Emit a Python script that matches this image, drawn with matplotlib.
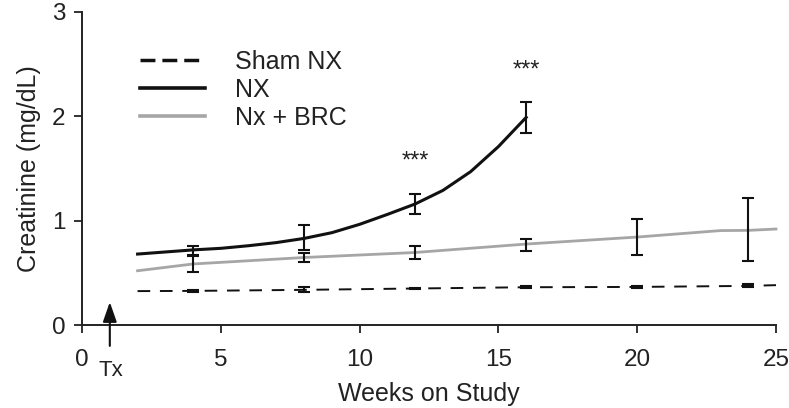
import matplotlib
matplotlib.use("Agg")
import matplotlib.pyplot as plt
from matplotlib.lines import Line2D

plt.rcParams['font.family'] = ['Liberation Sans', 'DejaVu Sans']

# curve traces (weeks, mg/dL)
nx_weeks = [2, 3, 4, 5, 6, 7, 8, 9, 10, 11, 12, 13, 14, 15, 16]
nx_vals = [0.68, 0.70, 0.72, 0.735, 0.76, 0.79, 0.83, 0.885, 0.965, 1.06, 1.16, 1.29, 1.47, 1.71, 1.99]
brc_weeks = [2, 4, 8, 12, 16, 20, 23, 24, 25]
brc_vals = [0.52, 0.585, 0.647, 0.695, 0.776, 0.843, 0.905, 0.907, 0.92]
sham_weeks = [2, 4, 8, 12, 16, 20, 24, 25]
sham_vals = [0.325, 0.327, 0.337, 0.35, 0.362, 0.365, 0.375, 0.382]

# error bars at measurement weeks
nx_err_weeks = [4, 8, 12, 16]
nx_err_mean = [0.715, 0.835, 1.16, 1.99]
nx_err = [0.04, 0.12, 0.1, 0.15]
brc_err_weeks = [4, 8, 12, 16, 20, 24]
brc_err_mean = [0.585, 0.647, 0.695, 0.77, 0.843, 0.913]
brc_err = [0.075, 0.04, 0.06, 0.057, 0.175, 0.3]
sham_err_weeks = [4, 8, 12, 16, 20, 24]
sham_err_mean = [0.327, 0.337, 0.35, 0.362, 0.365, 0.375]
sham_err = [0.01, 0.025, 0.008, 0.01, 0.012, 0.015]

star_weeks = [12, 16]
star_y = [1.57, 2.44]

fig = plt.figure(figsize=(7.89, 4.08), dpi=100)
ax = fig.add_axes([0.104, 0.2034, 0.8795, 0.7672])

ax.plot(sham_weeks, sham_vals, color='#111111', lw=1.4, linestyle=(0, (6.5, 5)), clip_on=False)
ax.plot(brc_weeks, brc_vals, color='#a6a6a6', lw=2.0, clip_on=False)
ax.plot(nx_weeks, nx_vals, color='#111111', lw=2.2, clip_on=False, solid_joinstyle='round')

eb = dict(fmt='none', ecolor='#111111', capsize=4, elinewidth=1.5, capthick=1.5, clip_on=False)
ax.errorbar(sham_err_weeks, sham_err_mean, yerr=sham_err, **eb)
ax.errorbar(brc_err_weeks, brc_err_mean, yerr=brc_err, **eb)
ax.errorbar(nx_err_weeks, nx_err_mean, yerr=nx_err, **eb)

for w, y in zip(star_weeks, star_y):
    ax.text(w, y, '***', ha='center', va='center', fontsize=17, color='#222222')

# treatment arrow
ax.annotate('', xy=(1, 0.22), xytext=(1, -0.2), xycoords='data',
            arrowprops=dict(arrowstyle='-|>,head_width=0.42,head_length=1.2', color='#111111',
                            lw=1.5, shrinkA=0, shrinkB=0),
            annotation_clip=False)
ax.text(1.05, -0.44, 'Tx', ha='center', va='center', fontsize=16, color='#222222')

ax.set_xlim(0, 25)
ax.set_ylim(0, 3)
ax.set_xticks([0, 5, 10, 15, 20, 25])
ax.set_yticks([0, 1, 2, 3])
for s in ['top', 'right']:
    ax.spines[s].set_visible(False)
for s in ['left', 'bottom']:
    ax.spines[s].set_linewidth(1.4)
    ax.spines[s].set_color('#222222')
ax.tick_params(axis='both', direction='out', length=6, width=1.3, colors='#222222', labelsize=17.5)
ax.tick_params(axis='x', pad=11)
ax.tick_params(axis='y', pad=6)
ax.set_xlabel('Weeks on Study', fontsize=18, color='#222222', labelpad=8)
ax.set_ylabel('Creatinine (mg/dL)', fontsize=18, color='#222222', labelpad=8)

handles = [
    Line2D([], [], color='#111111', lw=2.5, linestyle=(0, (4.3, 2))),
    Line2D([], [], color='#111111', lw=2.6),
    Line2D([], [], color='#a6a6a6', lw=2.6),
]
ax.legend(handles, ['Sham NX', 'NX', 'Nx + BRC'], loc='upper left',
          bbox_to_anchor=(0.0836, 0.878), frameon=False, fontsize=18,
          handlelength=2.6, handletextpad=1.2, labelspacing=0.16,
          borderpad=0, borderaxespad=0, labelcolor='#222222')

fig.savefig('out.png', dpi=100)
